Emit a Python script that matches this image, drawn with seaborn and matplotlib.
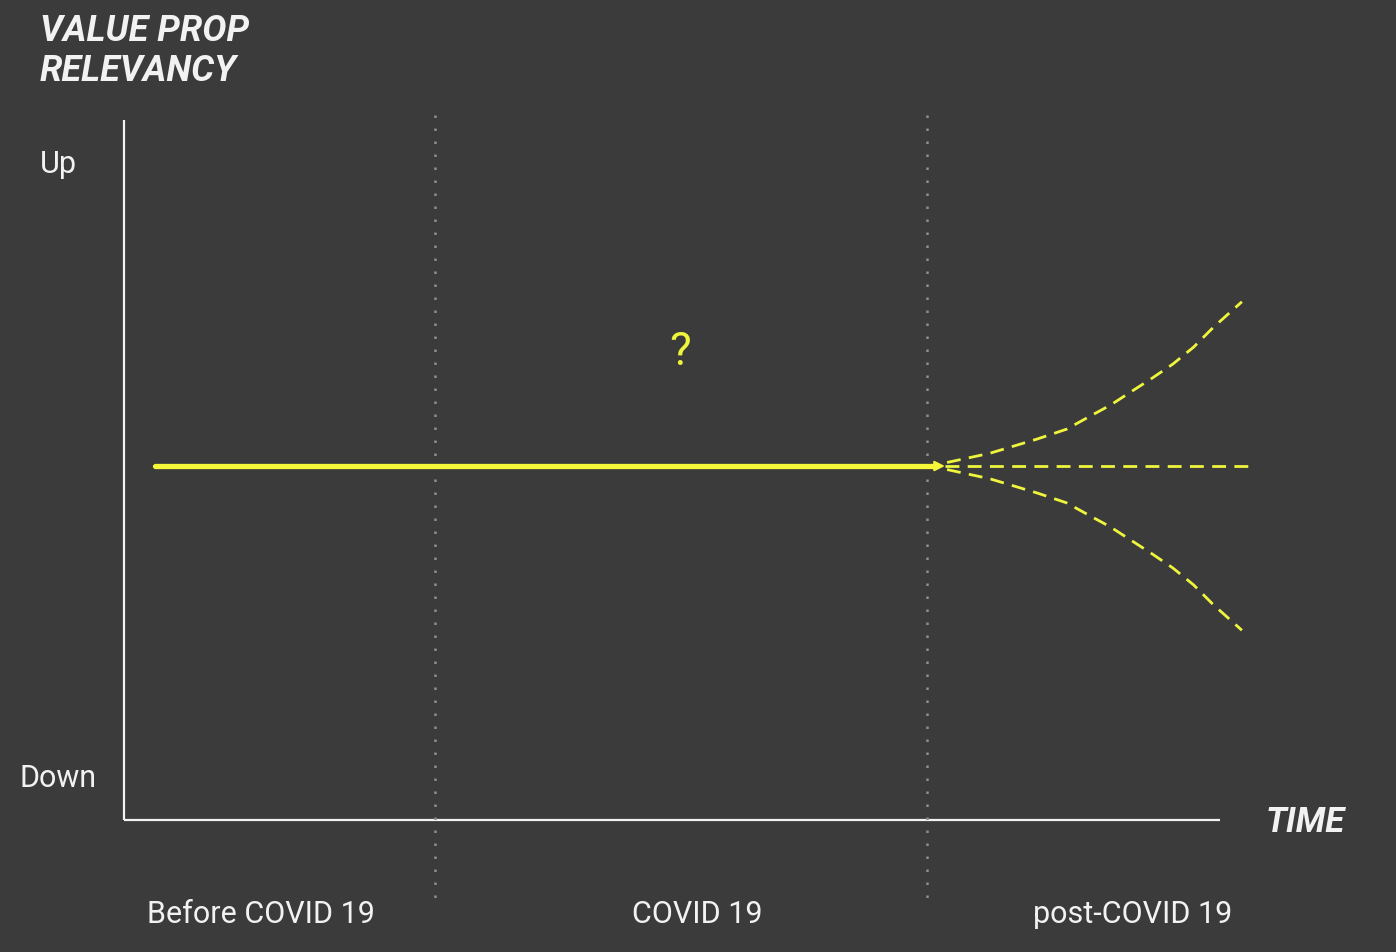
import numpy as np
import pandas as pd
import matplotlib
matplotlib.use("Agg")
import matplotlib.pyplot as plt
import seaborn as sns

# ---- data (time in arbitrary units, relevancy 0..10) ----
period_labels = ["Before COVID 19", "COVID 19", "post-COVID 19"]
period_centers = [1.25, 5.23, 9.20]
period_dividers = [2.84, 7.33]

# current trajectory (flat)
base_time = [0.28, 7.40]
base_value = [5.0, 5.0]

# post-COVID scenarios
up_time = [7.51, 7.90, 8.33, 8.60, 8.81, 9.00, 9.18, 9.38, 9.57, 9.76, 9.94, 10.20]
up_value = [5.05, 5.18, 5.38, 5.52, 5.70, 5.86, 6.04, 6.24, 6.44, 6.68, 6.96, 7.32]
flat_time = [7.49, 10.32]
flat_value = [5.0, 5.0]
down_time = [7.51, 7.90, 8.33, 8.60, 8.81, 9.00, 9.18, 9.38, 9.57, 9.76, 9.94, 10.20]
down_value = [4.95, 4.82, 4.62, 4.48, 4.30, 4.14, 3.96, 3.76, 3.56, 3.32, 3.04, 2.68]

y_labels = ["Up", "Down"]
y_label_values = [9.26, 0.59]

BG = "#3b3b3b"
YELLOW = "#f7f73a"
YELLOW2 = "#eef53c"
WHITE = "#f2f2f2"
GRAY = "#8e8e8e"

sns.set_theme(style="dark", rc={"axes.facecolor": BG, "figure.facecolor": BG})
plt.rcParams["font.family"] = ["Roboto", "DejaVu Sans"]

fig = plt.figure(figsize=(13.96, 9.52), dpi=100)
ax = fig.add_axes([0, 0, 1, 1])
ax.set_facecolor(BG)
ax.axis("off")

# axis lines
ax.plot([0, 10], [0, 0], color=WHITE, lw=1.6, solid_capstyle="butt")
ax.plot([0, 0], [0, 9.89], color=WHITE, lw=1.6, solid_capstyle="butt")

# period dividers
for d in period_dividers:
    ax.plot([d, d], [9.96, -1.17], color=GRAY, lw=1.8, linestyle=(0, (1, 4.2)))

# solid current line
df_base = pd.DataFrame({"t": base_time, "v": base_value})
sns.lineplot(data=df_base, x="t", y="v", ax=ax, color=YELLOW, lw=3.8, legend=False)
ax.annotate("", xy=(base_time[-1] + 0.09, base_value[-1]),
            xytext=(base_time[-1] - 0.05, base_value[-1]),
            arrowprops=dict(arrowstyle="-|>", color=YELLOW, lw=1.5,
                            mutation_scale=15, shrinkA=0, shrinkB=0))

# scenarios
for tt, vv in [(up_time, up_value), (flat_time, flat_value), (down_time, down_value)]:
    df = pd.DataFrame({"t": tt, "v": vv})
    sns.lineplot(data=df, x="t", y="v", ax=ax, color=YELLOW2, lw=2.0,
                 dashes=False, legend=False, linestyle=(0, (5, 3)))

ax.set_xlabel("")
ax.set_ylabel("")
ax.set_xlim(-1.131, 11.606)
ax.set_ylim(-1.864, 11.582)

# texts
ax.text(-0.767, 10.86, "VALUE PROP\nRELEVANCY", color=WHITE, fontsize=26,
        fontweight="bold", fontstyle="italic", ha="left", va="center",
        linespacing=1.17)
ax.text(10.78, -0.03, "TIME", color=WHITE, fontsize=25, fontweight="bold",
        fontstyle="italic", ha="center", va="center")
ax.text(-0.766, y_label_values[0], y_labels[0], color=WHITE, fontsize=22,
        ha="left", va="center")
ax.text(-0.949, y_label_values[1], y_labels[1], color=WHITE, fontsize=22,
        ha="left", va="center")
for lab, c in zip(period_labels, period_centers):
    ax.text(c, -1.33, lab, color=WHITE, fontsize=22, ha="center", va="center")
ax.text(5.07, 6.61, "?", color=YELLOW2, fontsize=33, ha="center", va="center")

fig.savefig("out.png", dpi=100, facecolor=BG)
